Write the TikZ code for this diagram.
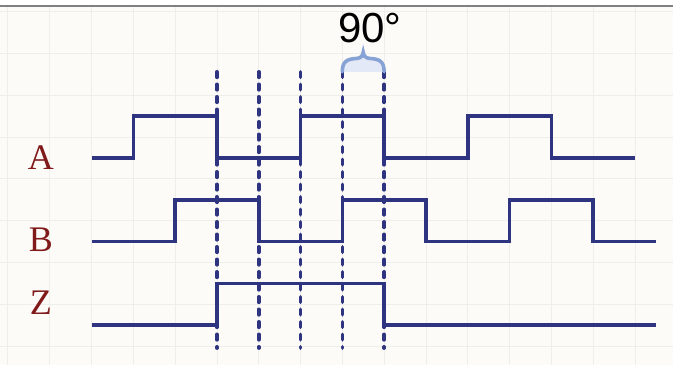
\documentclass[tikz,border=0pt]{standalone}
\usepackage{fontspec}
\setmainfont{Liberation Serif}
\newfontfamily\sansfont{Liberation Sans}
\definecolor{wavec}{RGB}{46,52,128}
\definecolor{labelc}{RGB}{128,26,26}
\definecolor{bracec}{RGB}{135,162,212}
\definecolor{bracefill}{RGB}{227,233,246}
\definecolor{paper}{RGB}{253,251,248}
\definecolor{gridc}{RGB}{238,238,234}
\begin{document}
\begin{tikzpicture}[x=41.8pt,y=41.8pt,line join=miter,
	wave/.style={draw=wavec,line width=3.6pt},
	tick/.style={draw=wavec,line width=3.6pt,line cap=round,dash pattern=on 5.5pt off 7pt},
	sig/.style={text=labelc,font=\fontsize{36}{40}\selectfont}]
	\def\l{-2.189}
	\def\r{13.911}
	\def\t{3.634}
	\useasboundingbox(\l,-4.955)rectangle(\r,3.778);
	\fill[white](\l,\t)rectangle(\r,3.778);
	\fill[paper](\l,-4.955)rectangle(\r,\t);
	% faint grid
	\foreach \i in {-2,...,13}
	\draw[gridc,line width=0.8pt](\i,-4.955)--(\i,\t);
	\foreach \j in {-4.5,-3.5,...,3.5}
	\draw[gridc,line width=0.8pt](\l,\j)--(\r,\j);
	\draw[gray,line width=1.5pt](\l,\t)--(\r,\t);
	% dashed markers
	\foreach \x in {3,...,7}{
	\path(\x,2.06)coordinate(t\x)(\x,-4.55)coordinate(b\x);
	\draw[tick](t\x)--(b\x);}
	% signals
	\draw[wave](0,0)--(1,0)--(1,1)--(3,1)--(3,0)--(5,0)--(5,1)--(7,1)--(7,0)--(9,0)--(9,1)--(11,1)--(11,0)--(13,0);
	\draw[wave](0,-2)--(2,-2)--(2,-1)--(4,-1)--(4,-2)--(6,-2)--(6,-1)--(8,-1)--(8,-2)--(10,-2)--(10,-1)--(12,-1)--(12,-2)--(13.5,-2);
	\draw[wave](0,-4)--(3,-4)--(3,-3)--(7,-3)--(7,-4)--(13.5,-4);
	% brace over one quarter period
	\fill[bracefill](t6)..controls(6,2.3)and(6.1,2.37)..(6.35,2.38)..controls(6.45,2.39)and(6.49,2.45)..(6.5,2.53)
	..controls(6.51,2.45)and(6.55,2.39)..(6.65,2.38)..controls(6.9,2.37)and(7,2.3)..(t7)--cycle;
	\draw[bracec,line width=3.6pt,line cap=round](t6)..controls(6,2.3)and(6.1,2.37)..(6.35,2.38)..controls(6.45,2.39)and(6.49,2.45)..(6.5,2.53)
	..controls(6.51,2.45)and(6.55,2.39)..(6.65,2.38)..controls(6.9,2.37)and(7,2.3)..(t7);
	\node[anchor=base,font=\sansfont\fontsize{42}{46}\selectfont](deg)at(6.66,2.75){90°};
	\foreach \d/\g in{A/0,B/-1.96,Z/-3.47}
	\node[sig](\d)at(-1.21,\g){\d};
\end{tikzpicture}
\end{document}
